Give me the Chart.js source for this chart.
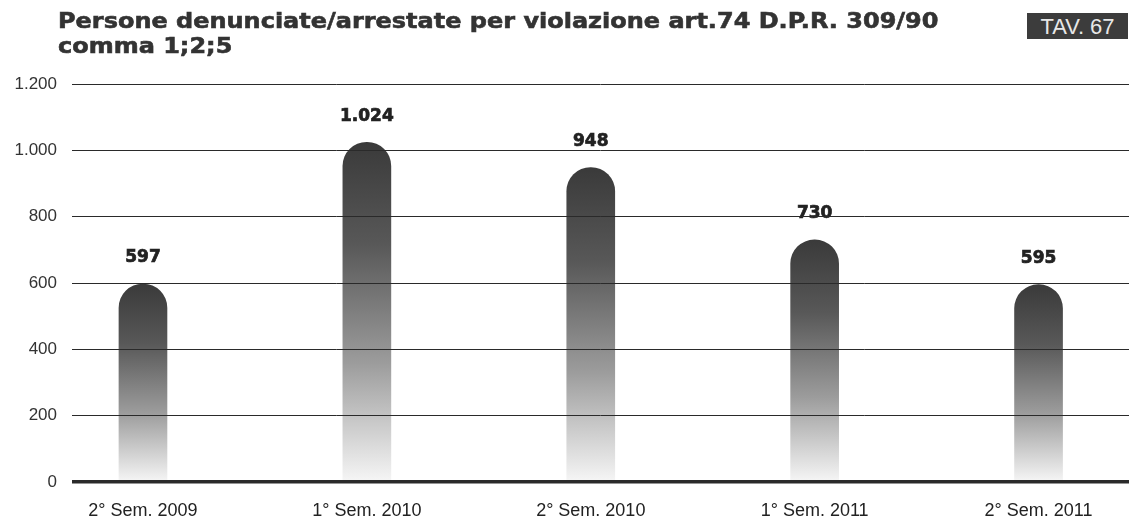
<!DOCTYPE html>
<html>
<head>
<meta charset="utf-8">
<script src="https://cdn.jsdelivr.net/npm/chart.js@4/dist/chart.umd.min.js"></script>
<style>
  body { margin: 0; background: #fff; }
  #wrap { position: relative; width: 1129px; height: 518px; }
  #title {
    position: absolute; left: 58px; top: 8px;
    font-family: "DejaVu Sans", sans-serif; font-weight: bold;
    font-size: 21.5px; line-height: 25px; color: #333;
    -webkit-text-stroke: 0.6px #333;
    transform: scaleX(1.115); transform-origin: 0 0;
    white-space: nowrap;
  }
  #tav {
    position: absolute; left: 1027px; top: 13px; width: 101px; height: 26px;
    background: #3c3c3c; color: #e8e8e8;
    font-family: "Liberation Sans", sans-serif; font-size: 22px;
    line-height: 27px; text-align: center;
  }
  canvas { position: absolute; left: 0; top: 0; }
</style>
</head>
<body>
<div id="wrap">
  <canvas id="barChart" width="1129" height="518"></canvas>
  <div id="title">Persone denunciate/arrestate per violazione art.74 D.P.R. 309/90<br>comma 1;2;5</div>
  <div id="tav">TAV. 67</div>
</div>
<script>
var categories = ["2° Sem. 2009", "1° Sem. 2010", "2° Sem. 2010", "1° Sem. 2011", "2° Sem. 2011"];
var values = [597, 1024, 948, 730, 595];
var yTicks = [0, 200, 400, 600, 800, 1000, 1200];

// numeri in formato italiano (1.024)
const fmt = (n) => String(n).replace(/\B(?=(\d{3})+(?!\d))/g, ".");

const barGradient = (c) => {
    var chart = c.chart;
    if (!chart.chartArea || c.raw === undefined) return "#555";
    var y = chart.scales.y;
    var top = y.getPixelForValue(c.raw.y);
    var bottom = y.getPixelForValue(0);
    var g = chart.ctx.createLinearGradient(0, top, 0, bottom);
    g.addColorStop(0, "#3a3a3a");
    g.addColorStop(0.3, "#585858");
    g.addColorStop(0.65, "#9c9c9c");
    g.addColorStop(1, "#f6f6f6");
    return g;
};

const valueLabels = {
    id: "valueLabels",
    afterDatasetsDraw(chart) {
        var ctx = chart.ctx;
        var meta = chart.getDatasetMeta(0);
        ctx.save();
        ctx.font = "bold 17px 'DejaVu Sans'";
        ctx.fillStyle = "#222";
        ctx.strokeStyle = "#222";
        ctx.lineWidth = 0.7;
        ctx.textAlign = "center";
        ctx.textBaseline = "middle";
        meta.data.forEach((bar, i) => {
            ctx.fillText(fmt(values[i]), bar.x, bar.y - 26);
            ctx.strokeText(fmt(values[i]), bar.x, bar.y - 26);
        });
        ctx.restore();
    }
};

const barPlot = () => {
    var ctx = document.getElementById("barChart").getContext("2d");

    new Chart(ctx, {
        type: "bar",
        data: {
            datasets: [{
                data: values.map((v, i) => ({ x: i, y: v })),
                backgroundColor: barGradient,
                barThickness: 48,
                borderRadius: { topLeft: 24, topRight: 24, bottomLeft: 0, bottomRight: 0 },
                borderSkipped: "bottom"
            }]
        },
        options: {
            responsive: false,
            animation: false,
            layout: { padding: { top: 84, right: 0, left: 0, bottom: 0 } },
            plugins: {
                legend: { display: false },
                tooltip: { enabled: false }
            },
            scales: {
                x: {
                    type: "linear",
                    offset: false,
                    min: -0.317,
                    max: 4.404,
                    grid: { display: false, offset: false },
                    border: { display: false },
                    afterFit: (axis) => { axis.height = 36; },
                    ticks: {
                        stepSize: 1,
                        includeBounds: false,
                        autoSkip: false,
                        maxRotation: 0,
                        padding: 10,
                        color: "#222",
                        font: { family: "Liberation Sans", size: 18 },
                        callback: (v) => Number.isInteger(v) && categories[v] ? categories[v] : ""
                    }
                },
                y: {
                    min: 0,
                    max: 1200,
                    afterBuildTicks: (axis) => { axis.ticks = yTicks.map(v => ({ value: v })); },
                    afterFit: (axis) => { axis.width = 72; },
                    border: { display: false },
                    grid: {
                        z: 1,
                        drawTicks: false,
                        color: "#2a2a2a",
                        lineWidth: (c) => c.tick && c.tick.value === 0 ? 3.5 : 1
                    },
                    ticks: {
                        padding: 15,
                        color: "#333",
                        font: { family: "Liberation Sans", size: 17 },
                        callback: (v) => fmt(v)
                    }
                }
            }
        },
        plugins: [valueLabels]
    });
};

barPlot();
</script>
</body>
</html>
